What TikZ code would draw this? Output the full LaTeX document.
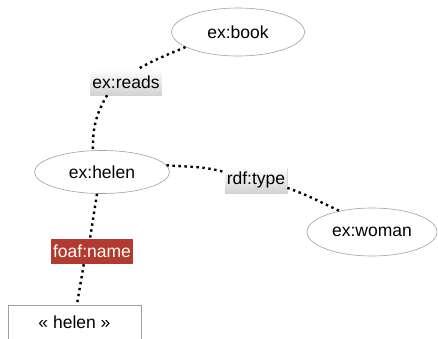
\documentclass[tikz,border=0pt]{standalone}
\usepackage{fontspec}
\setmainfont{Liberation Sans}
\usetikzlibrary{shapes.geometric,shadows}

\definecolor{namered}{RGB}{178,58,47}

\begin{document}
\begin{tikzpicture}[x=1pt,y=-1pt,font=\fontsize{17.5}{20}\selectfont]
    \tikzset{
        resource/.style={ellipse,draw=gray!75,line width=0.6pt,inner sep=0pt},
        prop/.style={
            rectangle,inner xsep=2pt,inner ysep=0pt,minimum height=26pt,
            top color=white,bottom color=gray!35,
            drop shadow={opacity=0.3,shadow xshift=0.8pt,shadow yshift=-1.2pt}
        },
        namebox/.style={
            rectangle,inner xsep=2pt,inner ysep=0pt,minimum height=25pt,
            fill=namered,text=white
        },
        literal/.style={rectangle,draw=gray!75,line width=0.6pt,minimum width=133pt,minimum height=34pt},
        link/.style={line width=2.4pt,dash pattern=on 2.4pt off 3.6pt}
    }
    \clip (0,0) rectangle (438,338);

    \node[resource,minimum width=133pt,minimum height=48pt] (book) at (238,32) {ex:book};
    \node[prop] (reads) at (126,82) {ex:reads};
    \node[resource,minimum width=135pt,minimum height=43pt] (helen) at (102,172) {ex:helen};
    \node[prop] (type) at (256,180) {rdf:type};
    \node[resource,minimum width=130pt,minimum height=48pt] (woman) at (372,232) {ex:woman};
    \node[namebox] (name) at (92,251.5) {foaf:name};
    \node[literal] (lit) at (74.5,322) {« helen »};

    \draw[link] (book.196) to[out=203,in=29] (reads.47);
    \draw[link] (reads.215) to[out=239,in=90] (helen.113);
    \draw[link] (helen.6) to[out=-5,in=164] (type.166);
    \draw[link] (type.-14) to[out=-20,in=155] (woman.147);
    \draw[link] (helen.257) -- (name.99);
    \draw[link] (name.237) -- (lit.82);
\end{tikzpicture}
\end{document}
